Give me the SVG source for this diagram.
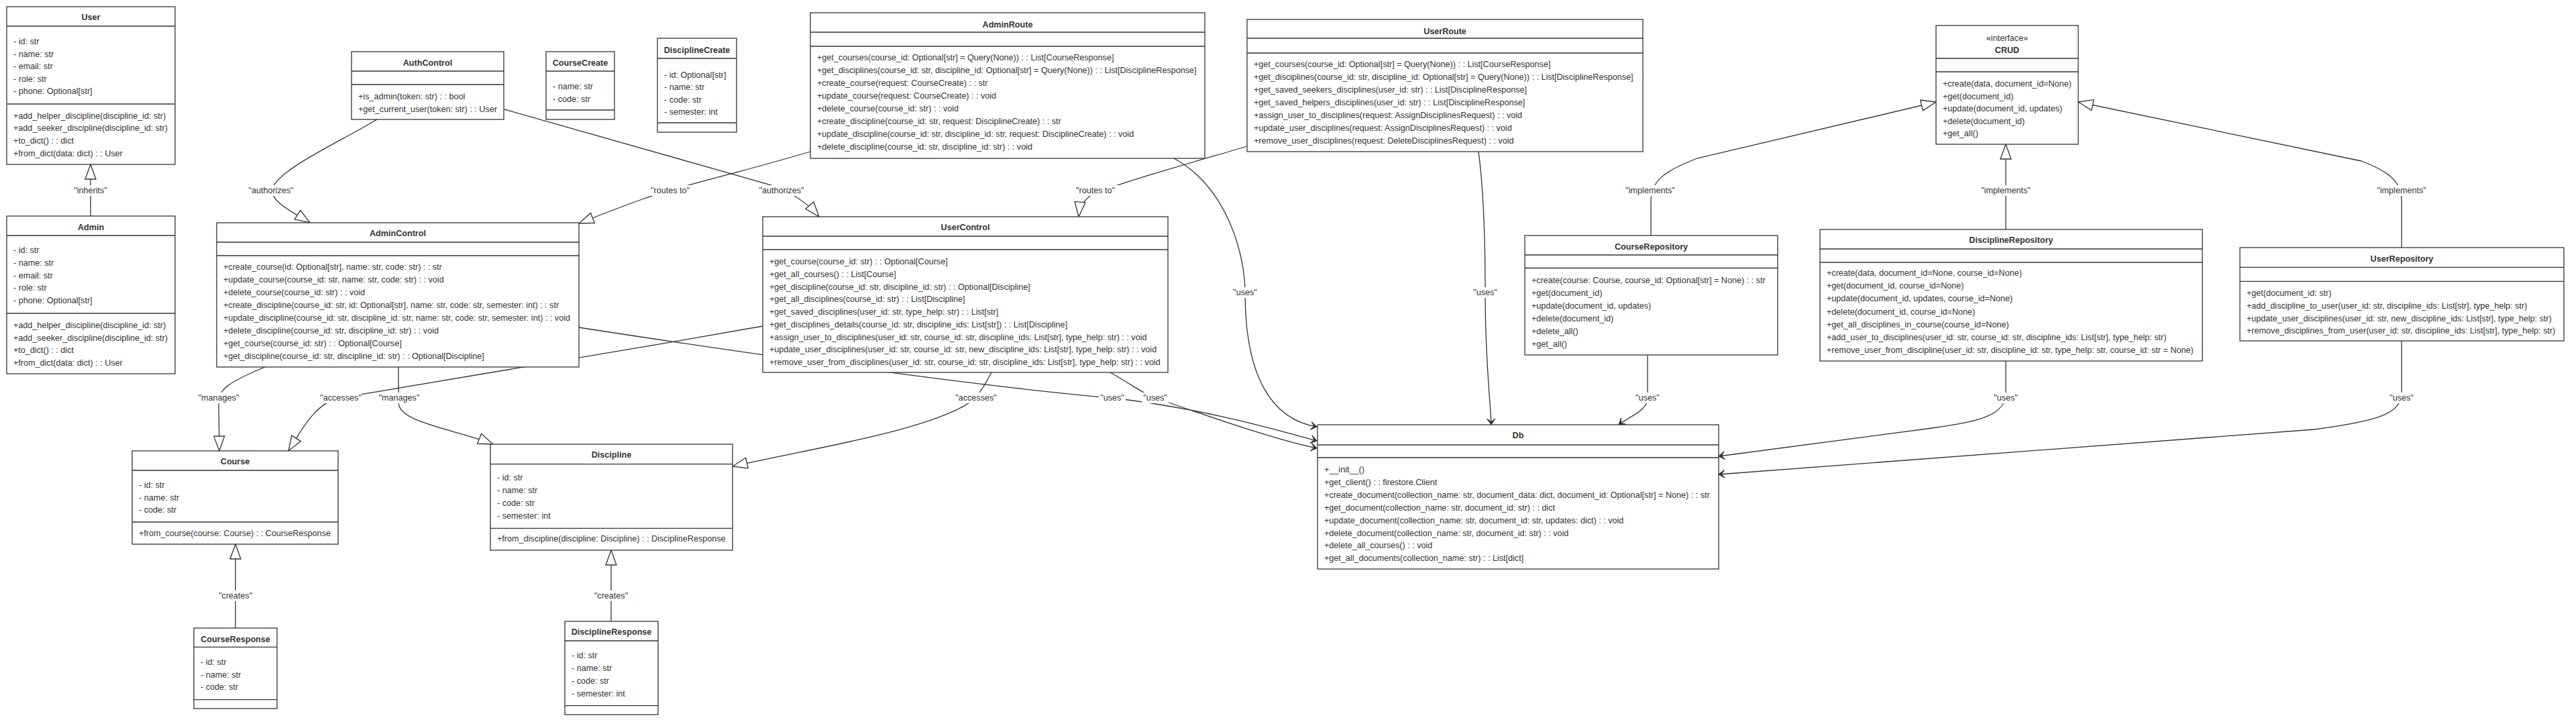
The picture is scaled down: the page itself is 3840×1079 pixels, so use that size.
<svg xmlns="http://www.w3.org/2000/svg" width="3840" height="1079" viewBox="0 0 3840 1079">
<style>
.bg{fill:#fff}
.box{fill:#fff;stroke:#333;stroke-width:1.3}
.sep{stroke:#333;stroke-width:1.3}
.t{font-family:"Liberation Sans",Arial,sans-serif;font-size:12.6px;fill:#333;dominant-baseline:central}
.h{font-weight:bold;text-anchor:middle}
.c{text-anchor:middle}
.e{fill:none;stroke:#333;stroke-width:1.3}
.lb{fill:#fff}
</style>
<defs>
<marker id="tri" markerUnits="userSpaceOnUse" viewBox="0 0 24 18" markerWidth="24" markerHeight="18" refX="23" refY="9" orient="auto"><path d="M1,1 L23,9 L1,17 Z" fill="#fff" stroke="#333" stroke-width="1.3"/></marker>
<marker id="dep" markerUnits="userSpaceOnUse" viewBox="0 0 18 14" markerWidth="18" markerHeight="14" refX="18" refY="7" orient="auto"><path d="M18,7 L9,13 L14,7 L9,1 Z" fill="#333" stroke="#333" stroke-width="1"/></marker>
</defs>
<rect class="bg" x="0" y="0" width="3840" height="1079"/>
<g id="connectors">
<path class="e" d="M135,322 L135,245" marker-end="url(#tri)"/>
<path class="e" d="M351,936 L351,811" marker-end="url(#tri)"/>
<path class="e" d="M911,926 L911,820" marker-end="url(#tri)"/>
<path class="e" d="M562,178 C500,215 420,250 406,280 C400,300 440,318 462,332" marker-end="url(#tri)"/>
<path class="e" d="M752,163 L1150,276 Q1195,292 1221,323" marker-end="url(#tri)"/>
<path class="e" d="M1208,226 C1100,258 1010,278 960,296 C915,312 888,323 863,333" marker-end="url(#tri)"/>
<path class="e" d="M1859,218 C1750,250 1650,278 1625,292 C1612,302 1609,312 1608,323" marker-end="url(#tri)"/>
<path class="e" d="M1750,236 C1830,280 1856,380 1856,436 C1856,560 1895,625 1963,636" marker-end="url(#dep)"/>
<path class="e" d="M2204,226 C2214,300 2214,400 2214,436 C2214,540 2222,600 2223,633" marker-end="url(#dep)"/>
<path class="e" d="M2461,351 L2461,300 C2461,270 2480,255 2530,236 L2886,152" marker-end="url(#tri)"/>
<path class="e" d="M2990,342 L2990,215" marker-end="url(#tri)"/>
<path class="e" d="M3580,369 L3580,300 C3580,270 3560,255 3520,240 L3098,152" marker-end="url(#tri)"/>
<path class="e" d="M2456,529 L2456,593 C2456,612 2430,620 2413,633" marker-end="url(#dep)"/>
<path class="e" d="M2990,538 L2990,585 C2990,620 2950,628 2880,638 L2562,680" marker-end="url(#dep)"/>
<path class="e" d="M3580,508 L3580,585 C3580,618 3540,628 3450,640 L2562,707" marker-end="url(#dep)"/>
<path class="e" d="M395,547 C340,570 326,580 326,600 L327,672" marker-end="url(#tri)"/>
<path class="e" d="M594,547 L594,600 C594,630 680,640 735,662" marker-end="url(#tri)"/>
<path class="e" d="M1137,486 C900,528 620,575 507,593 C470,600 450,640 430,672" marker-end="url(#tri)"/>
<path class="e" d="M1478,555 C1468,575 1460,585 1455,593 C1400,640 1200,670 1092,695" marker-end="url(#tri)"/>
<path class="e" d="M863,488 C1200,540 1500,580 1658,593 C1800,610 1900,640 1963,657" marker-end="url(#dep)"/>
<path class="e" d="M1655,555 C1690,575 1710,590 1722,593 C1800,620 1900,655 1963,668" marker-end="url(#dep)"/>
<g id="labels">
<rect class="lb" x="106" y="276" width="58" height="16"/><text class="t c" x="135" y="284">"inherits"</text>
<rect class="lb" x="320" y="880" width="62" height="16"/><text class="t c" x="351" y="888">"creates"</text>
<rect class="lb" x="880" y="880" width="62" height="16"/><text class="t c" x="911" y="888">"creates"</text>
<rect class="lb" x="366" y="276" width="76" height="16"/><text class="t c" x="404" y="284">"authorizes"</text>
<rect class="lb" x="1127" y="276" width="76" height="16"/><text class="t c" x="1165" y="284">"authorizes"</text>
<rect class="lb" x="965" y="276" width="68" height="16"/><text class="t c" x="999" y="284">"routes to"</text>
<rect class="lb" x="1599" y="276" width="68" height="16"/><text class="t c" x="1633" y="284">"routes to"</text>
<rect class="lb" x="1836" y="428" width="40" height="16"/><text class="t c" x="1856" y="436">"uses"</text>
<rect class="lb" x="2194" y="428" width="40" height="16"/><text class="t c" x="2214" y="436">"uses"</text>
<rect class="lb" x="2420" y="276" width="80" height="16"/><text class="t c" x="2460" y="284">"implements"</text>
<rect class="lb" x="2950" y="276" width="80" height="16"/><text class="t c" x="2990" y="284">"implements"</text>
<rect class="lb" x="3540" y="276" width="80" height="16"/><text class="t c" x="3580" y="284">"implements"</text>
<rect class="lb" x="2436" y="585" width="40" height="16"/><text class="t c" x="2456" y="593">"uses"</text>
<rect class="lb" x="2970" y="585" width="40" height="16"/><text class="t c" x="2990" y="593">"uses"</text>
<rect class="lb" x="3560" y="585" width="40" height="16"/><text class="t c" x="3580" y="593">"uses"</text>
<rect class="lb" x="296" y="585" width="60" height="16"/><text class="t c" x="326" y="593">"manages"</text>
<rect class="lb" x="565" y="585" width="60" height="16"/><text class="t c" x="595" y="593">"manages"</text>
<rect class="lb" x="477" y="585" width="62" height="16"/><text class="t c" x="508" y="593">"accesses"</text>
<rect class="lb" x="1424" y="585" width="62" height="16"/><text class="t c" x="1455" y="593">"accesses"</text>
<rect class="lb" x="1638" y="585" width="40" height="16"/><text class="t c" x="1658" y="593">"uses"</text>
<rect class="lb" x="1702" y="585" width="40" height="16"/><text class="t c" x="1722" y="593">"uses"</text>
</g>
</g>
<g id="User">
<rect class="box" x="10" y="10" width="251" height="235"/>
<line class="sep" x1="10" y1="39" x2="261" y2="39"/><line class="sep" x1="10" y1="155" x2="261" y2="155"/>
<text class="t h" x="135.5" y="25.5">User</text>
<text class="t" x="20" y="62">- id: str</text>
<text class="t" x="20" y="80.5">- name: str</text>
<text class="t" x="20" y="99">- email: str</text>
<text class="t" x="20" y="117.5">- role: str</text>
<text class="t" x="20" y="136">- phone: Optional[str]</text>
<text class="t" x="20" y="172.5">+add_helper_discipline(discipline_id: str)</text>
<text class="t" x="20" y="191">+add_seeker_discipline(discipline_id: str)</text>
<text class="t" x="20" y="210">+to_dict() : : dict</text>
<text class="t" x="20" y="229">+from_dict(data: dict) : : User</text>
</g>
<g id="Admin">
<rect class="box" x="10" y="322" width="251" height="235"/>
<line class="sep" x1="10" y1="351" x2="261" y2="351"/><line class="sep" x1="10" y1="467" x2="261" y2="467"/>
<text class="t h" x="135.5" y="339">Admin</text>
<text class="t" x="20" y="373">- id: str</text>
<text class="t" x="20" y="391.5">- name: str</text>
<text class="t" x="20" y="410.5">- email: str</text>
<text class="t" x="20" y="429">- role: str</text>
<text class="t" x="20" y="448">- phone: Optional[str]</text>
<text class="t" x="20" y="485">+add_helper_discipline(discipline_id: str)</text>
<text class="t" x="20" y="503.5">+add_seeker_discipline(discipline_id: str)</text>
<text class="t" x="20" y="522">+to_dict() : : dict</text>
<text class="t" x="20" y="541">+from_dict(data: dict) : : User</text>
</g>
<g id="AuthControl">
<rect class="box" x="524" y="77" width="227" height="101"/>
<line class="sep" x1="524" y1="106" x2="751" y2="106"/><line class="sep" x1="524" y1="126" x2="751" y2="126"/>
<text class="t h" x="637.5" y="94">AuthControl</text>
<text class="t" x="534" y="144">+is_admin(token: str) : : bool</text>
<text class="t" x="534" y="162.5">+get_current_user(token: str) : : User</text>
</g>
<g id="CourseCreate">
<rect class="box" x="814" y="77" width="102" height="101"/>
<line class="sep" x1="814" y1="106" x2="916" y2="106"/><line class="sep" x1="814" y1="164" x2="916" y2="164"/>
<text class="t h" x="865" y="94">CourseCreate</text>
<text class="t" x="824" y="129">- name: str</text>
<text class="t" x="824" y="147.5">- code: str</text>
</g>
<g id="DisciplineCreate">
<rect class="box" x="980" y="57" width="118" height="140"/>
<line class="sep" x1="980" y1="87" x2="1098" y2="87"/><line class="sep" x1="980" y1="183" x2="1098" y2="183"/>
<text class="t h" x="1039" y="75">DisciplineCreate</text>
<text class="t" x="990" y="111.5">- id: Optional[str]</text>
<text class="t" x="990" y="130">- name: str</text>
<text class="t" x="990" y="148.5">- code: str</text>
<text class="t" x="990" y="166.5">- semester: int</text>
</g>
<g id="AdminRoute">
<rect class="box" x="1208" y="19" width="588" height="217"/>
<line class="sep" x1="1208" y1="48" x2="1796" y2="48"/><line class="sep" x1="1208" y1="69" x2="1796" y2="69"/>
<text class="t h" x="1502" y="37">AdminRoute</text>
<text class="t" x="1218" y="86">+get_courses(course_id: Optional[str] = Query(None)) : : List[CourseResponse]</text>
<text class="t" x="1218" y="105">+get_disciplines(course_id: str, discipline_id: Optional[str] = Query(None)) : : List[DisciplineResponse]</text>
<text class="t" x="1218" y="124">+create_course(request: CourseCreate) : : str</text>
<text class="t" x="1218" y="143">+update_course(request: CourseCreate) : : void</text>
<text class="t" x="1218" y="162">+delete_course(course_id: str) : : void</text>
<text class="t" x="1218" y="181">+create_discipline(course_id: str, request: DisciplineCreate) : : str</text>
<text class="t" x="1218" y="200">+update_discipline(course_id: str, discipline_id: str, request: DisciplineCreate) : : void</text>
<text class="t" x="1218" y="219">+delete_discipline(course_id: str, discipline_id: str) : : void</text>
</g>
<g id="UserRoute">
<rect class="box" x="1859" y="29" width="590" height="197"/>
<line class="sep" x1="1859" y1="57" x2="2449" y2="57"/><line class="sep" x1="1859" y1="79" x2="2449" y2="79"/>
<text class="t h" x="2154" y="46.5">UserRoute</text>
<text class="t" x="1869" y="95.7">+get_courses(course_id: Optional[str] = Query(None)) : : List[CourseResponse]</text>
<text class="t" x="1869" y="114.7">+get_disciplines(course_id: str, discipline_id: Optional[str] = Query(None)) : : List[DisciplineResponse]</text>
<text class="t" x="1869" y="133.8">+get_saved_seekers_disciplines(user_id: str) : : List[DisciplineResponse]</text>
<text class="t" x="1869" y="152.8">+get_saved_helpers_disciplines(user_id: str) : : List[DisciplineResponse]</text>
<text class="t" x="1869" y="171.9">+assign_user_to_disciplines(request: AssignDisciplinesRequest) : : void</text>
<text class="t" x="1869" y="190.9">+update_user_disciplines(request: AssignDisciplinesRequest) : : void</text>
<text class="t" x="1869" y="210">+remove_user_disciplines(request: DeleteDisciplinesRequest) : : void</text>
</g>
<g id="CRUD">
<rect class="box" x="2886" y="38" width="212" height="177"/>
<line class="sep" x1="2886" y1="87" x2="3098" y2="87"/><line class="sep" x1="2886" y1="107" x2="3098" y2="107"/>
<text class="t c" x="2992" y="57">«interface»</text>
<text class="t h" x="2992" y="75">CRUD</text>
<text class="t" x="2896" y="125">+create(data, document_id=None)</text>
<text class="t" x="2896" y="143.5">+get(document_id)</text>
<text class="t" x="2896" y="162">+update(document_id, updates)</text>
<text class="t" x="2896" y="180.5">+delete(document_id)</text>
<text class="t" x="2896" y="199">+get_all()</text>
</g>
<g id="AdminControl">
<rect class="box" x="323" y="332" width="540" height="215"/>
<line class="sep" x1="323" y1="361" x2="863" y2="361"/><line class="sep" x1="323" y1="381" x2="863" y2="381"/>
<text class="t h" x="593" y="348">AdminControl</text>
<text class="t" x="333" y="398.3">+create_course(id: Optional[str], name: str, code: str) : : str</text>
<text class="t" x="333" y="417.2">+update_course(course_id: str, name: str, code: str) : : void</text>
<text class="t" x="333" y="436.1">+delete_course(course_id: str) : : void</text>
<text class="t" x="333" y="455">+create_discipline(course_id: str, id: Optional[str], name: str, code: str, semester: int) : : str</text>
<text class="t" x="333" y="473.9">+update_discipline(course_id: str, discipline_id: str, name: str, code: str, semester: int) : : void</text>
<text class="t" x="333" y="492.8">+delete_discipline(course_id: str, discipline_id: str) : : void</text>
<text class="t" x="333" y="511.7">+get_course(course_id: str) : : Optional[Course]</text>
<text class="t" x="333" y="530.6">+get_discipline(course_id: str, discipline_id: str) : : Optional[Discipline]</text>
</g>
<g id="UserControl">
<rect class="box" x="1137" y="323" width="604" height="232"/>
<line class="sep" x1="1137" y1="352" x2="1741" y2="352"/><line class="sep" x1="1137" y1="372" x2="1741" y2="372"/>
<text class="t h" x="1439" y="338.5">UserControl</text>
<text class="t" x="1147" y="390">+get_course(course_id: str) : : Optional[Course]</text>
<text class="t" x="1147" y="408.8">+get_all_courses() : : List[Course]</text>
<text class="t" x="1147" y="427.5">+get_discipline(course_id: str, discipline_id: str) : : Optional[Discipline]</text>
<text class="t" x="1147" y="446.3">+get_all_disciplines(course_id: str) : : List[Discipline]</text>
<text class="t" x="1147" y="465">+get_saved_disciplines(user_id: str, type_help: str) : : List[str]</text>
<text class="t" x="1147" y="483.8">+get_disciplines_details(course_id: str, discipline_ids: List[str]) : : List[Discipline]</text>
<text class="t" x="1147" y="502.5">+assign_user_to_disciplines(user_id: str, course_id: str, discipline_ids: List[str], type_help: str) : : void</text>
<text class="t" x="1147" y="521.3">+update_user_disciplines(user_id: str, course_id: str, new_discipline_ids: List[str], type_help: str) : : void</text>
<text class="t" x="1147" y="540">+remove_user_from_disciplines(user_id: str, course_id: str, discipline_ids: List[str], type_help: str) : : void</text>
</g>
<g id="CourseRepository">
<rect class="box" x="2273" y="351" width="377" height="178"/>
<line class="sep" x1="2273" y1="380" x2="2650" y2="380"/><line class="sep" x1="2273" y1="399.5" x2="2650" y2="399.5"/>
<text class="t h" x="2461.5" y="367.5">CourseRepository</text>
<text class="t" x="2283" y="418.3">+create(course: Course, course_id: Optional[str] = None) : : str</text>
<text class="t" x="2283" y="437.2">+get(document_id)</text>
<text class="t" x="2283" y="456.1">+update(document_id, updates)</text>
<text class="t" x="2283" y="475">+delete(document_id)</text>
<text class="t" x="2283" y="493.9">+delete_all()</text>
<text class="t" x="2283" y="512.8">+get_all()</text>
</g>
<g id="DisciplineRepository">
<rect class="box" x="2713" y="342" width="570" height="196"/>
<line class="sep" x1="2713" y1="371" x2="3283" y2="371"/><line class="sep" x1="2713" y1="391" x2="3283" y2="391"/>
<text class="t h" x="2998" y="358.3">DisciplineRepository</text>
<text class="t" x="2723" y="407.3">+create(data, document_id=None, course_id=None)</text>
<text class="t" x="2723" y="426.4">+get(document_id, course_id=None)</text>
<text class="t" x="2723" y="445.4">+update(document_id, updates, course_id=None)</text>
<text class="t" x="2723" y="464.5">+delete(document_id, course_id=None)</text>
<text class="t" x="2723" y="483.5">+get_all_disciplines_in_course(course_id=None)</text>
<text class="t" x="2723" y="502.6">+add_user_to_disciplines(user_id: str, course_id: str, discipline_ids: List[str], type_help: str)</text>
<text class="t" x="2723" y="521.6">+remove_user_from_discipline(user_id: str, discipline_id: str, type_help: str, course_id: str = None)</text>
</g>
<g id="UserRepository">
<rect class="box" x="3339" y="369" width="483" height="139"/>
<line class="sep" x1="3339" y1="398.3" x2="3822" y2="398.3"/><line class="sep" x1="3339" y1="419.3" x2="3822" y2="419.3"/>
<text class="t h" x="3580.5" y="386">UserRepository</text>
<text class="t" x="3349" y="436.7">+get(document_id: str)</text>
<text class="t" x="3349" y="455.7">+add_discipline_to_user(user_id: str, discipline_ids: List[str], type_help: str)</text>
<text class="t" x="3349" y="474.5">+update_user_disciplines(user_id: str, new_discipline_ids: List[str], type_help: str)</text>
<text class="t" x="3349" y="493.3">+remove_disciplines_from_user(user_id: str, discipline_ids: List[str], type_help: str)</text>
</g>
<g id="Db">
<rect class="box" x="1964" y="633" width="598" height="215"/>
<line class="sep" x1="1964" y1="663" x2="2562" y2="663"/><line class="sep" x1="1964" y1="682" x2="2562" y2="682"/>
<text class="t h" x="2263" y="649.3">Db</text>
<text class="t" x="1974" y="700">+__init__()</text>
<text class="t" x="1974" y="718.9">+get_client() : : firestore.Client</text>
<text class="t" x="1974" y="737.8">+create_document(collection_name: str, document_data: dict, document_id: Optional[str] = None) : : str</text>
<text class="t" x="1974" y="756.7">+get_document(collection_name: str, document_id: str) : : dict</text>
<text class="t" x="1974" y="775.6">+update_document(collection_name: str, document_id: str, updates: dict) : : void</text>
<text class="t" x="1974" y="794.5">+delete_document(collection_name: str, document_id: str) : : void</text>
<text class="t" x="1974" y="813.4">+delete_all_courses() : : void</text>
<text class="t" x="1974" y="832.3">+get_all_documents(collection_name: str) : : List[dict]</text>
</g>
<g id="Course">
<rect class="box" x="197" y="672" width="307" height="139"/>
<line class="sep" x1="197" y1="701" x2="504" y2="701"/><line class="sep" x1="197" y1="778" x2="504" y2="778"/>
<text class="t h" x="350.5" y="688">Course</text>
<text class="t" x="207" y="723">- id: str</text>
<text class="t" x="207" y="741.7">- name: str</text>
<text class="t" x="207" y="760">- code: str</text>
<text class="t" x="207" y="794.5">+from_course(course: Course) : : CourseResponse</text>
</g>
<g id="CourseResponse">
<rect class="box" x="289" y="936" width="124" height="120"/>
<line class="sep" x1="289" y1="964.3" x2="413" y2="964.3"/><line class="sep" x1="289" y1="1042.7" x2="413" y2="1042.7"/>
<text class="t h" x="351" y="952.7">CourseResponse</text>
<text class="t" x="299" y="986.7">- id: str</text>
<text class="t" x="299" y="1005.5">- name: str</text>
<text class="t" x="299" y="1024.3">- code: str</text>
</g>
<g id="Discipline">
<rect class="box" x="731" y="662" width="361" height="158"/>
<line class="sep" x1="731" y1="691.7" x2="1092" y2="691.7"/><line class="sep" x1="731" y1="787.3" x2="1092" y2="787.3"/>
<text class="t h" x="911.5" y="678.3">Discipline</text>
<text class="t" x="741" y="712.3">- id: str</text>
<text class="t" x="741" y="731.3">- name: str</text>
<text class="t" x="741" y="750.3">- code: str</text>
<text class="t" x="741" y="769.3">- semester: int</text>
<text class="t" x="741" y="803.3">+from_discipline(discipline: Discipline) : : DisciplineResponse</text>
</g>
<g id="DisciplineResponse">
<rect class="box" x="842" y="926" width="139" height="139"/>
<line class="sep" x1="842" y1="955" x2="981" y2="955"/><line class="sep" x1="842" y1="1051.7" x2="981" y2="1051.7"/>
<text class="t h" x="911.5" y="942.3">DisciplineResponse</text>
<text class="t" x="852" y="976.7">- id: str</text>
<text class="t" x="852" y="995.7">- name: str</text>
<text class="t" x="852" y="1014.7">- code: str</text>
<text class="t" x="852" y="1033.5">- semester: int</text>
</g>
</svg>
